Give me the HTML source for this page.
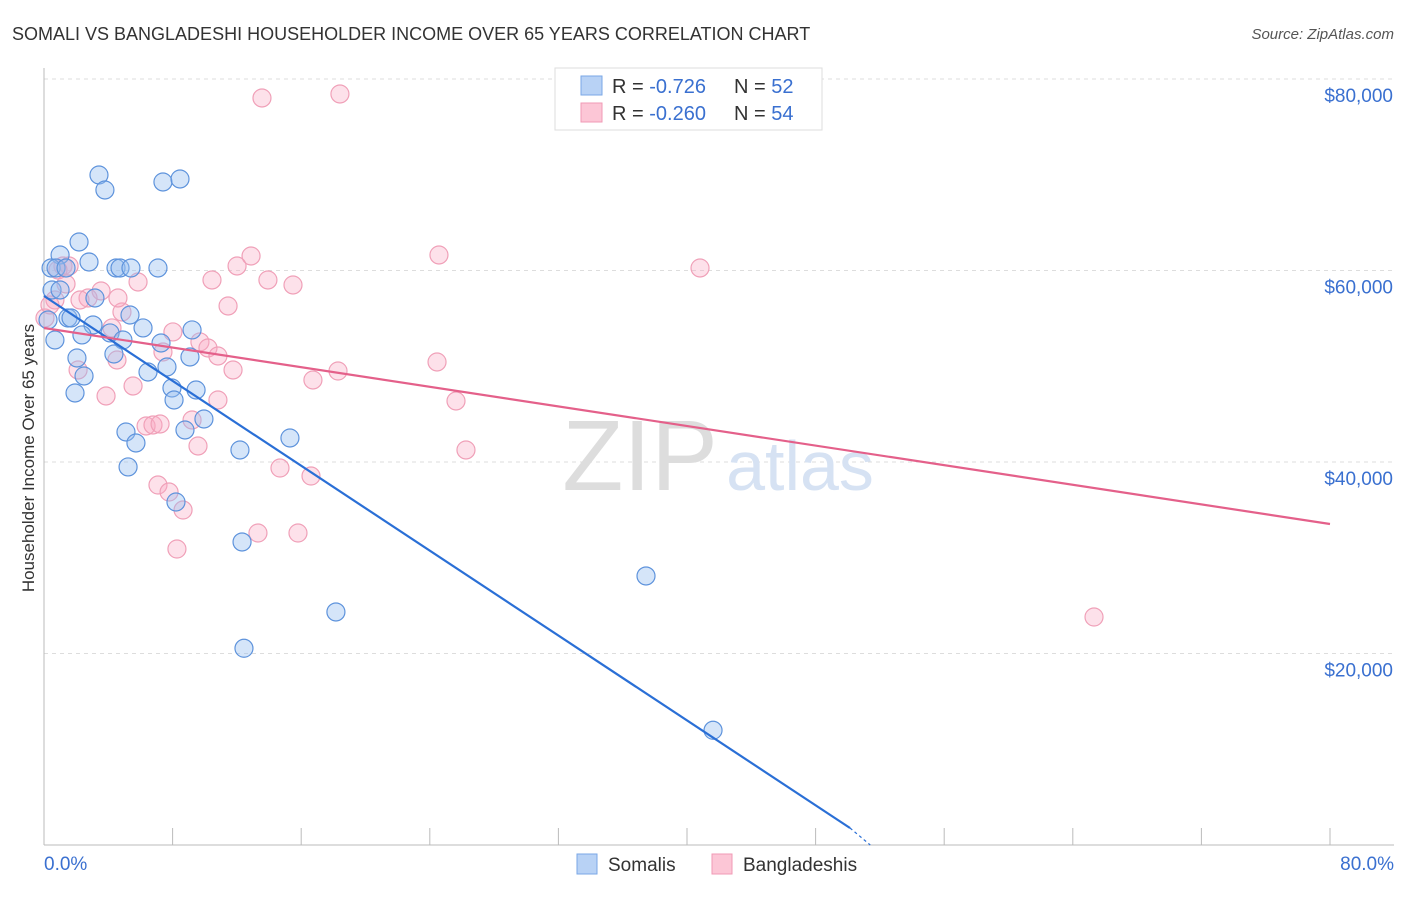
<!DOCTYPE html>
<html><head><meta charset="utf-8"><style>
body{margin:0;background:#fff;font-family:"Liberation Sans",sans-serif;}
svg text{font-family:"Liberation Sans",sans-serif;}
</style></head><body>
<svg id="chart" width="1406" height="892" xmlns="http://www.w3.org/2000/svg">
<text x="12" y="40" font-size="18" fill="#333">SOMALI VS BANGLADESHI HOUSEHOLDER INCOME OVER 65 YEARS CORRELATION CHART</text>
<text x="1394" y="39" font-size="15" fill="#555" text-anchor="end" font-style="italic">Source: ZipAtlas.com</text>
<text x="34" y="458" font-size="17" fill="#333" text-anchor="middle" transform="rotate(-90 34 458)">Householder Income Over 65 years</text>
<g id="grid"></g>
<g id="axes"></g>
<text x="640" y="490" font-size="100" fill="#ddd" font-family="Liberation Serif" text-anchor="middle">ZIP</text>
<text x="800" y="490" font-size="70" fill="#d6e2f3" text-anchor="middle">atlas</text>
<g id="pts"></g>
<g id="trends"></g>
<g>
<rect x="555" y="68" width="267" height="62" fill="#fff" stroke="#ddd"/>
<rect x="581" y="76" width="21" height="19" fill="#b8d2f5" stroke="#7aa7e6"/>
<rect x="581" y="103" width="21" height="19" fill="#fcc6d6" stroke="#f09ab5"/>
<text x="612" y="93" font-size="20" fill="#333">R = <tspan fill="#3a70d0">-0.726</tspan></text>
<text x="734" y="93" font-size="20" fill="#333">N = <tspan fill="#3a70d0">52</tspan></text>
<text x="612" y="120" font-size="20" fill="#333">R = <tspan fill="#3a70d0">-0.260</tspan></text>
<text x="734" y="120" font-size="20" fill="#333">N = <tspan fill="#3a70d0">54</tspan></text>
</g>
<g>
<rect x="577" y="854" width="20" height="20" fill="#b8d2f5" stroke="#7aa7e6"/>
<text x="608" y="871" font-size="19" fill="#333">Somalis</text>
<rect x="712" y="854" width="20" height="20" fill="#fcc6d6" stroke="#f09ab5"/>
<text x="743" y="871" font-size="19" fill="#333">Bangladeshis</text>
</g>
</svg>
<script>
const yTicks=[20000,40000,60000,80000];
const yTickLabels=["$20,000","$40,000","$60,000","$80,000"];
const xTicks=[0,8,16,24,32,40,48,56,64,72,80];
const somaliX=[3.42,3.79,7.40,8.46,2.18,1.00,2.80,0.44,0.75,4.48,4.73,5.41,7.09,1.37,0.50,1.00,3.17,1.49,1.68,5.35,6.16,9.21,3.05,2.36,4.11,4.91,7.28,4.35,2.05,9.08,6.47,7.65,2.49,7.96,9.46,1.93,8.09,9.95,5.10,8.77,5.72,12.19,15.30,5.23,8.21,12.32,18.16,37.45,12.44,41.62,0.25,0.68];
const somaliY=[69975,68408,69244,69557,62979,61620,60890,60263,60263,60263,60263,60263,60263,60263,57965,57965,57129,55040,55040,55353,53999,53790,54311,53268,53477,52742,52429,51280,50863,50967,49400,49922,48983,47729,47520,47207,46476,44492,43134,43343,41985,41254,42507,39483,35823,31648,24337,28097,20547,11983,54833,52742];
const banglaX=[13.56,18.41,24.57,12.88,12.01,10.45,13.93,15.49,40.81,1.18,1.56,0.87,1.37,3.55,5.85,2.74,11.45,4.85,4.23,0.68,8.02,9.70,10.20,7.40,10.82,24.45,4.54,2.12,11.76,16.73,18.29,5.54,3.86,10.82,25.63,9.21,6.35,6.78,7.22,9.58,26.25,14.68,16.61,7.09,7.78,8.65,13.31,15.80,8.27,65.32,0.06,4.60,0.37,2.24];
const banglaY=[78017,78434,61620,61516,60471,59009,59009,58487,60263,60471,60471,60054,58591,57860,58800,57129,56293,55667,53999,56920,53581,52537,51907,51489,51071,50445,50654,49609,49609,48565,49504,47938,46894,46476,46372,44387,43761,43865,43970,41672,41254,39373,38537,37597,36866,34986,32585,32585,30914,23812,55040,57129,56398,56920];
const somaliTrend=[[0,57337],[50.14,1775]];
const somaliTrendExt=[[50.14,1775],[51.4,0]];
const banglaTrend=[[0,53995],[80,33525]];
const X=v=>44+v*1286/80, Y=v=>845-v*191.5/20000;
const NS="http://www.w3.org/2000/svg";
function mk(p,t,a){const e=document.createElementNS(NS,t);for(const k in a)e.setAttribute(k,a[k]);p.appendChild(e);return e;}
const grid=document.getElementById('grid'),axes=document.getElementById('axes');
yTicks.forEach((t,i)=>{
 const l=mk(grid,'line',{x1:44,x2:1394,y1:Y(t),y2:Y(t),stroke:'#ddd','stroke-dasharray':'4,4'});
 
 
 const tx=mk(axes,'text',{x:1393,y:Y(t)+23,'font-size':19,fill:'#3a70d0','text-anchor':'end'});
 tx.textContent=yTickLabels[i];
 
 
});
const tl=mk(grid,'line',{x1:44,x2:1394,y1:Y(80000),y2:Y(80000),stroke:'#ddd','stroke-dasharray':'4,4'});
mk(axes,'line',{x1:44,x2:44,y1:68,y2:845,stroke:'#bbb'});
mk(axes,'line',{x1:44,x2:1394,y1:845,y2:845,stroke:'#bbb'});
xTicks.forEach(t=>{const l=mk(axes,'line',{x1:X(t),x2:X(t),y1:828,y2:845,stroke:'#bbb'});
 
 });
let a=mk(axes,'text',{x:44,y:870,'font-size':19,fill:'#3a70d0'});a.textContent='0.0%';

let b=mk(axes,'text',{x:1394,y:870,'font-size':19,fill:'#3a70d0','text-anchor':'end'});b.textContent='80.0%';

const pts=document.getElementById('pts');
banglaX.forEach((x,i)=>{const c=mk(pts,'circle',{cx:X(x),cy:Y(banglaY[i]),r:9,fill:'rgba(248,170,195,0.35)',stroke:'#f0a0b8','stroke-width':1.2});
 
 });
somaliX.forEach((x,i)=>{const c=mk(pts,'circle',{cx:X(x),cy:Y(somaliY[i]),r:9,fill:'rgba(150,190,240,0.4)',stroke:'#5e93dc','stroke-width':1.2});
 
 });
const tr=document.getElementById('trends');
let s=mk(tr,'line',{x1:X(somaliTrend[0][0]),y1:Y(somaliTrend[0][1]),x2:X(somaliTrend[1][0]),y2:Y(somaliTrend[1][1]),stroke:'#2a6fd6','stroke-width':2.2});


let se=mk(tr,'line',{x1:X(somaliTrendExt[0][0]),y1:Y(somaliTrendExt[0][1]),x2:X(somaliTrendExt[1][0]),y2:Y(somaliTrendExt[1][1]),stroke:'#2a6fd6','stroke-width':1.2,'stroke-dasharray':'3,3'});

let p=mk(tr,'line',{x1:X(banglaTrend[0][0]),y1:Y(banglaTrend[0][1]),x2:X(banglaTrend[1][0]),y2:Y(banglaTrend[1][1]),stroke:'#e4608a','stroke-width':2.2});


</script>
</body></html>
